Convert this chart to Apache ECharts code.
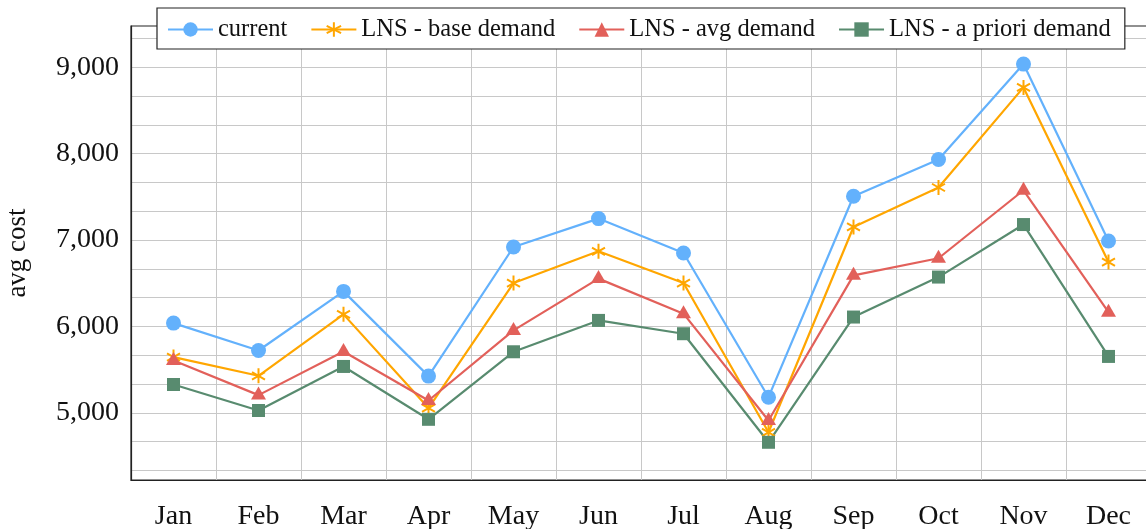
<!DOCTYPE html>
<html>
<head>
<meta charset="utf-8">
<script src="https://cdn.jsdelivr.net/npm/echarts@6/dist/echarts.min.js"></script>
<style>
  html, body { margin: 0; padding: 0; background: #fff; }
  #main { width: 1146px; height: 529px; }
</style>
</head>
<body>
<div id="main"></div>
<script>
var months = ['Jan', 'Feb', 'Mar', 'Apr', 'May', 'Jun', 'Jul', 'Aug', 'Sep', 'Oct', 'Nov', 'Dec'];
var seriesNames = ['current', 'LNS - base demand', 'LNS - avg demand', 'LNS - a priori demand'];
var current = [6039, 5722, 6406, 5425, 6920, 7249, 6851, 5181, 7508, 7933, 9038, 6990];
var baseDemand = [5645, 5429, 6140, 5055, 6503, 6870, 6503, 4775, 7152, 7609, 8768, 6746];
var avgDemand = [5605, 5205, 5710, 5143, 5954, 6554, 6148, 4911, 6592, 6790, 7577, 6166];
var aprioriDemand = [5328, 5027, 5537, 4925, 5707, 6070, 5916, 4659, 6109, 6572, 7180, 5653];
var yTicks = [5000, 6000, 7000, 8000, 9000];

var chart = echarts.init(document.getElementById('main'));
var font = 'Liberation Serif';
var step = 1000 / 9;          // grid every 3rd step (1000/3)
var yMin = 38 * step;
var fade = 'rgba(0,0,0,0)';
var gridGray = '#c8c8c8';

// asterisk mark for base demand
var star = 'path://M0,-1L0,1M-0.866,-0.5L0.866,0.5M-0.866,0.5L0.866,-0.5';

function line(name, data, color, symbol, size, extra) {
    var s = {
        name: name,
        type: 'line',
        data: data,
        symbol: symbol,
        symbolSize: size,
        lineStyle: { color: color, width: 2.2 },
        itemStyle: { color: color },
        z: 3
    };
    for (var k in extra) s[k] = extra[k];
    return s;
}

var option = {
    animation: false,
    backgroundColor: '#fff',
    textStyle: { fontFamily: font, color: '#111' },
    legend: {
        data: seriesNames,
        left: 157,
        top: 8,
        padding: [9, 14, 7, 10],
        itemGap: 23,
        itemWidth: 45,
        itemHeight: 18,
        borderColor: '#222',
        borderWidth: 1.2,
        backgroundColor: '#fff',
        lineStyle: { width: 2 },
        textStyle: { fontFamily: font, fontSize: 24.5, color: '#111' },
        z: 10
    },
    grid: {
        left: 131,
        top: 26,
        width: 1020,
        height: 454,
        outerBoundsMode: 'none',
        containLabel: false,
        show: true,
        borderColor: '#222',
        borderWidth: 1.2
    },
    xAxis: {
        type: 'category',
        data: months,
        boundaryGap: true,
        axisLine: { lineStyle: { color: '#222', width: 1.2 } },
        axisTick: { inside: true, length: 6, lineStyle: { color: '#444' } },
        axisLabel: { fontFamily: font, fontSize: 28, color: '#111', margin: 23 },
        splitLine: { show: true, lineStyle: { color: gridGray, width: 1 } }
    },
    yAxis: {
        type: 'value',
        min: yMin,
        max: 9479,
        interval: step,
        name: 'avg cost',
        nameLocation: 'middle',
        nameGap: 100,
        nameTextStyle: { fontFamily: font, fontSize: 27, color: '#111' },
        axisLine: { show: true, lineStyle: { color: '#222', width: 1.2 } },
        axisTick: { show: false },
        axisLabel: {
            fontFamily: font,
            fontSize: 28,
            color: '#111',
            margin: 12,
            formatter: function (v) {
                for (var i = 0; i < yTicks.length; i++) {
                    if (Math.abs(v - yTicks[i]) < 1) return echarts.format.addCommas(yTicks[i]);
                }
                return '';
            }
        },
        splitLine: { show: true, lineStyle: { color: [fade, gridGray, fade], width: 1 } }
    },
    series: [
        line(seriesNames[0], current, '#63b1fc', 'circle', 15),
        line(seriesNames[1], baseDemand, '#ffa600', star, 15, {
            symbolKeepAspect: true,
            itemStyle: { color: '#ffa600', borderColor: '#ffa600', borderWidth: 2 }
        }),
        line(seriesNames[2], avgDemand, '#e2605a', 'triangle', [15, 13], { symbolOffset: [0, -2] }),
        line(seriesNames[3], aprioriDemand, '#588b6f', 'rect', 13)
    ]
};

chart.setOption(option);
</script>
</body>
</html>
